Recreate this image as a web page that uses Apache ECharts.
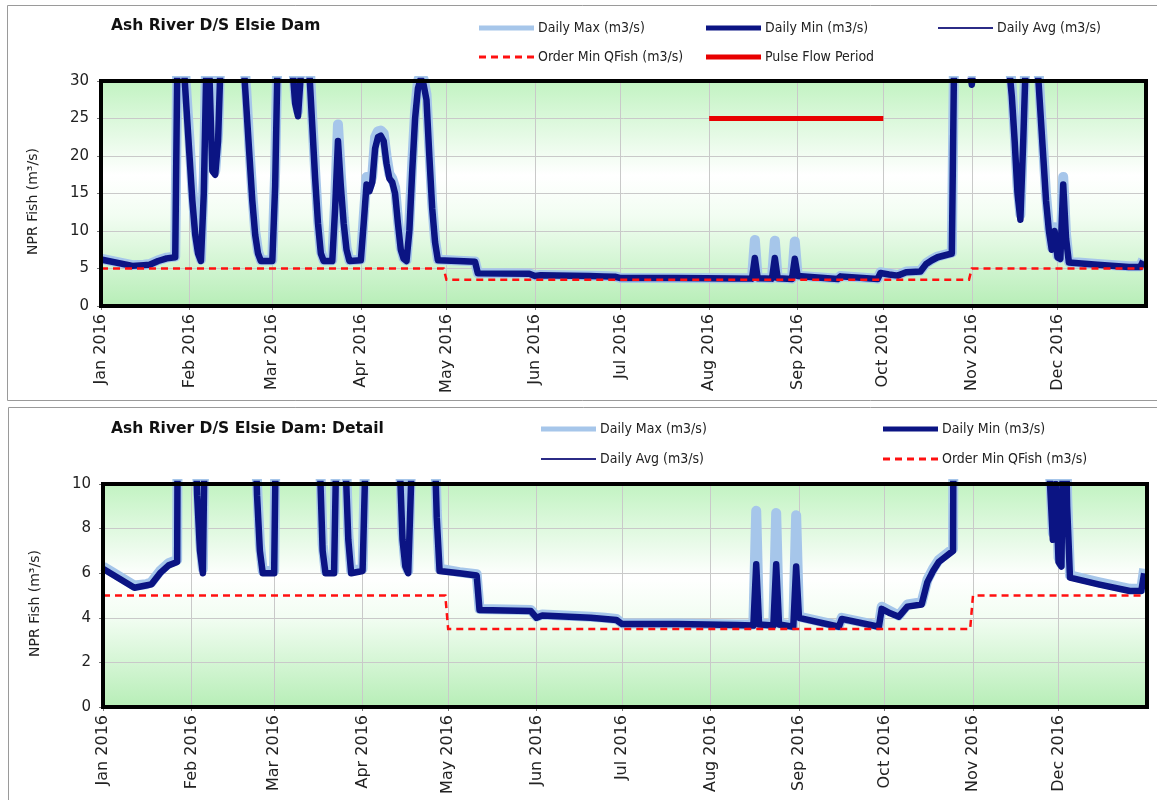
<!DOCTYPE html>
<html>
<head>
<meta charset="utf-8">
<script src="https://cdn.jsdelivr.net/npm/echarts@6/dist/echarts.min.js"></script>
<style>
  html, body { margin: 0; padding: 0; background: #ffffff; }
  #chart { width: 1157px; height: 800px; }
</style>
</head>
<body>
<div id="chart"></div>
<script>
// Ash River below Elsie Dam, daily flows for 2016 (m3/s)
const flowDates = [
  '2016-01-01','2016-01-12','2016-01-16','2016-01-18','2016-01-21','2016-01-24','2016-01-27','2016-01-28','2016-01-29','2016-01-30',
  '2016-01-31','2016-02-01','2016-02-02','2016-02-03','2016-02-04','2016-02-05','2016-02-06','2016-02-07','2016-02-08','2016-02-09',
  '2016-02-10','2016-02-11','2016-02-12','2016-02-16','2016-02-20','2016-02-21','2016-02-22','2016-02-23','2016-02-24','2016-02-25',
  '2016-02-26','2016-03-01','2016-03-02','2016-03-03','2016-03-07','2016-03-08','2016-03-09','2016-03-10','2016-03-11','2016-03-12',
  '2016-03-13','2016-03-14','2016-03-15','2016-03-16','2016-03-17','2016-03-18','2016-03-19','2016-03-22','2016-03-23','2016-03-24',
  '2016-03-25','2016-03-26','2016-03-27','2016-03-28','2016-04-01','2016-04-02','2016-04-03','2016-04-04','2016-04-05','2016-04-06',
  '2016-04-07','2016-04-08','2016-04-09','2016-04-10','2016-04-11','2016-04-12','2016-04-13','2016-04-14','2016-04-15','2016-04-16',
  '2016-04-17','2016-04-18','2016-04-19','2016-04-20','2016-04-21','2016-04-22','2016-04-23','2016-04-24','2016-04-25','2016-04-26',
  '2016-04-27','2016-04-28','2016-05-05','2016-05-11','2016-05-12','2016-05-30','2016-06-01','2016-06-03','2016-06-20','2016-06-25',
  '2016-06-29','2016-07-01','2016-07-20','2016-08-10','2016-08-16','2016-08-17','2016-08-18','2016-08-23','2016-08-24','2016-08-25',
  '2016-08-30','2016-08-31','2016-09-01','2016-09-15','2016-09-16','2016-09-29','2016-09-30','2016-10-03','2016-10-06','2016-10-09',
  '2016-10-14','2016-10-16','2016-10-18','2016-10-20','2016-10-25','2016-10-26','2016-10-31','2016-11-01','2016-11-02','2016-11-10',
  '2016-11-14','2016-11-15','2016-11-16','2016-11-17','2016-11-18','2016-11-19','2016-11-20','2016-11-24','2016-11-25','2016-11-26',
  '2016-11-27','2016-11-28','2016-11-29','2016-11-30','2016-12-01','2016-12-02','2016-12-03','2016-12-04','2016-12-05','2016-12-15',
  '2016-12-26','2016-12-30','2016-12-31'
];
const dailyMin = [
  6.2, 5.35, 5.45, 5.5, 6.0, 6.35, 6.5, 42, 40, 32,
  26, 20, 14, 9.5, 7, 6.0, 15, 34, 30.5, 18,
  17.5, 22, 34, 40, 32, 26, 20, 14, 9.5, 7,
  6.0, 6.0, 16, 36, 38, 32, 27, 25.3, 31, 36,
  34, 31, 24, 17, 11, 7, 6.0, 6.0, 13, 22,
  16, 11, 7.5, 6.0, 6.1, 11, 16.2, 15.3, 16.5, 21,
  22.5, 22.7, 22, 19, 17, 16.5, 15, 11, 7.5, 6.3,
  6.0, 10, 18, 25, 29, 30.3, 29.5, 27.5, 20, 13,
  8.5, 6.1, 6.0, 5.9, 4.35, 4.3, 4.0, 4.1, 4.0, 3.95,
  3.9, 3.72, 3.72, 3.68, 3.65, 6.4, 3.7, 3.65, 6.4, 3.7,
  3.6, 6.3, 4.0, 3.6, 3.95, 3.6, 4.4, 4.2, 4.05, 4.5,
  4.6, 5.6, 6.1, 6.5, 7.0, 40, 32, 29.5, 34, 40,
  32, 28, 22, 15, 11.5, 22, 34, 32, 26, 20,
  14, 10, 7.5, 10, 6.5, 6.3, 16.2, 9, 5.8, 5.5,
  5.2, 5.2, 6.0
];
const dailyMax = [
  6.3, 5.45, 5.5, 5.6, 6.1, 6.45, 6.6, 44, 42, 34,
  28, 22, 15.5, 10.5, 7.5, 6.2, 17, 36, 32, 19,
  18, 23, 36, 42, 34, 28, 21, 15, 10, 7.3,
  6.1, 6.1, 18, 38, 40, 34, 28, 26, 33, 38,
  36, 33, 25, 18, 11.5, 7.3, 6.1, 6.1, 14, 24.2,
  17.5, 11.8, 7.8, 6.1, 6.2, 11.8, 17.2, 16, 17.3, 22.5,
  23.3, 23.4, 23, 20, 17.6, 17, 15.8, 11.5, 7.8, 6.4,
  6.1, 11, 19, 26, 30, 31, 30.2, 28.2, 21, 13.6,
  8.8, 6.2, 6.05, 5.95, 4.4, 4.35, 4.05, 4.15, 4.05, 4.0,
  3.95, 3.75, 3.75, 3.7, 3.7, 8.8, 3.75, 3.7, 8.7, 3.75,
  3.65, 8.6, 4.05, 3.65, 4.0, 3.65, 4.5, 4.3, 4.1, 4.6,
  4.7, 5.7, 6.2, 6.6, 7.1, 42, 34, 31, 36, 42,
  34, 29, 23, 16, 12.2, 23, 36, 34, 27, 21,
  14.8, 10.5, 7.8, 10.5, 6.7, 6.4, 17.2, 9.5, 5.9, 5.6,
  5.3, 5.3, 6.2
];
const dailyAvg = [
  6.2, 5.4, 5.45, 5.55, 6.05, 6.4, 6.55, 43, 41, 33,
  27, 21, 14.8, 10, 7.2, 6.1, 16, 35, 31, 18.5,
  17.8, 22.5, 35, 41, 33, 27, 20.5, 14.5, 9.8, 7.1,
  6.05, 6.05, 17, 37, 39, 33, 27.5, 25.6, 32, 37,
  35, 32, 24.5, 17.5, 11.2, 7.1, 6.05, 6.05, 13.5, 23,
  16.8, 11.4, 7.6, 6.05, 6.15, 11.4, 16.7, 15.6, 16.9, 21.7,
  22.9, 23, 22.5, 19.5, 17.3, 16.7, 15.4, 11.2, 7.6, 6.35,
  6.05, 10.5, 18.5, 25.5, 29.5, 30.6, 29.8, 27.8, 20.5, 13.3,
  8.6, 6.15, 6.0, 5.9, 4.35, 4.3, 4.0, 4.1, 4.0, 3.95,
  3.9, 3.72, 3.72, 3.68, 3.65, 5.5, 3.7, 3.65, 5.5, 3.7,
  3.6, 5.4, 4.0, 3.6, 3.95, 3.6, 4.45, 4.25, 4.05, 4.55,
  4.65, 5.65, 6.15, 6.55, 7.05, 41, 33, 30, 35, 41,
  33, 28.5, 22.5, 15.5, 11.8, 22.5, 35, 33, 26.5, 20.5,
  14.4, 10.2, 7.6, 10.2, 6.6, 6.35, 16.5, 9.2, 5.85, 5.55,
  5.25, 5.25, 6.1
];

// Ordered minimum fish flow (step changes May 1 and Nov 1)
const qfishDates = ['2016-01-01', '2016-04-30', '2016-05-01', '2016-10-31', '2016-11-01', '2016-12-31'];
const qfishValues = [5, 5, 3.5, 3.5, 5, 5];

// Pulse flow window
const pulseDates = ['2016-08-01', '2016-10-01'];
const pulseValues = [25, 25];

const monthNames = ['Jan', 'Feb', 'Mar', 'Apr', 'May', 'Jun', 'Jul', 'Aug', 'Sep', 'Oct', 'Nov', 'Dec'];

const NAME_MAX = 'Daily Max (m3/s)';
const NAME_MIN = 'Daily Min (m3/s)';
const NAME_AVG = 'Daily Avg (m3/s)';
const NAME_QF = 'Order Min QFish (m3/s)';
const NAME_PULSE = 'Pulse Flow Period';

const COLOR_MAX = '#a6c6ea';
const COLOR_MIN = '#0b1483';
const COLOR_AVG = '#2b2b86';
const COLOR_QF = '#ff1010';
const COLOR_PULSE = '#e80000';

const DAY = 86400000;
const FONT = "'DejaVu Sans', Verdana, sans-serif";
const LEGEND_FONT = "'DejaVu Sans Condensed', 'DejaVu Sans', sans-serif";
const DASH_ICON = 'path://M0,0h7v3h-7z M12,0h7v3h-7z M24,0h7v3h-7z M36,0h7v3h-7z M48,0h7v3h-7z';

// plot-area layout of the two panels
const gridMain = { left: 101, top: 81, width: 1045, height: 225 };
const gridDetail = { left: 103, top: 484, width: 1044, height: 223 };

const zip = (xs, ys) => xs.map((x, i) => [x, ys[i]]);

function plotFill() {
  return new echarts.graphic.LinearGradient(0, 0, 0, 1, [
    { offset: 0, color: '#c2f3c2' },
    { offset: 0.42, color: '#ffffff' },
    { offset: 0.6, color: '#f2fdf2' },
    { offset: 1, color: '#b7eeb7' }
  ]);
}

function monthLabel(value) {
  const d = new Date(value);
  if (d.getFullYear() > 2016) return '';
  return monthNames[d.getMonth()] + ' ' + d.getFullYear();
}

function timeAxis(gridIndex) {
  return {
    type: 'time', gridIndex,
    min: '2016-01-01', max: '2017-01-01',
    splitNumber: 12, minInterval: 28 * DAY, maxInterval: 31 * DAY,
    axisLine: { show: false },
    axisTick: { show: true, length: 4, lineStyle: { color: '#777' } },
    axisLabel: {
      rotate: 90, margin: 8, fontSize: 16, color: '#222', fontFamily: FONT,
      formatter: monthLabel, showMaxLabel: false, hideOverlap: false
    },
    splitLine: { show: true, lineStyle: { color: '#c9c9c9', width: 1 } }
  };
}

function valueAxis(gridIndex, max, interval) {
  return {
    type: 'value', gridIndex, min: 0, max, interval,
    name: 'NPR Fish (m\u00b3/s)', nameLocation: 'middle', nameGap: 61,
    nameTextStyle: { fontSize: 14, color: '#222', fontFamily: FONT, padding: [0, 16, 0, 0] },
    axisLine: { show: false },
    axisTick: { show: true, length: 4, lineStyle: { color: '#777' } },
    axisLabel: { fontSize: 15, color: '#222', margin: 12, fontFamily: FONT },
    splitLine: { show: true, lineStyle: { color: '#c9c9c9', width: 1 } }
  };
}

function lineStyle(color, width) {
  return { color, width, type: 'solid', cap: 'butt', join: 'round' };
}

function flowSeries(axisIndex) {
  const base = { type: 'line', xAxisIndex: axisIndex, yAxisIndex: axisIndex, symbol: 'none', clip: true, animation: false };
  return [
    Object.assign({}, base, { name: NAME_AVG, data: zip(flowDates, dailyAvg), lineStyle: lineStyle(COLOR_AVG, 1.5), itemStyle: { color: COLOR_AVG }, z: 2 }),
    Object.assign({}, base, { name: NAME_MAX, data: zip(flowDates, dailyMax), lineStyle: lineStyle(COLOR_MAX, 10), itemStyle: { color: COLOR_MAX }, z: 3 }),
    Object.assign({}, base, { name: NAME_MIN, data: zip(flowDates, dailyMin), lineStyle: lineStyle(COLOR_MIN, 6.5), itemStyle: { color: COLOR_MIN }, z: 4 }),
    Object.assign({}, base, { name: NAME_QF, data: zip(qfishDates, qfishValues),
      lineStyle: { color: COLOR_QF, width: 2.5, type: [7, 5], cap: 'butt', join: 'miter' }, itemStyle: { color: COLOR_QF }, z: 5 })
  ];
}

// one legend entry per component so each sits where the layout wants it
function legendItem(name, left, centerY, thickness, icon) {
  return {
    data: [name], left, top: centerY - 8, padding: 0,
    icon: icon || 'rect', itemWidth: 55, itemHeight: thickness, itemGap: 0,
    textStyle: { fontSize: 14, color: '#222', fontFamily: LEGEND_FONT, padding: [0, 0, 0, -1] },
    selectedMode: false
  };
}

function frame(g) {
  return {
    type: 'rect', z: 100, silent: true,
    shape: { x: g.left, y: g.top, width: g.width, height: g.height },
    style: { fill: null, stroke: '#000', lineWidth: 4 }
  };
}

const chart = echarts.init(document.getElementById('chart'), null, { renderer: 'canvas' });

chart.setOption({
  backgroundColor: '#ffffff',
  animation: false,
  title: [
    { text: 'Ash River D/S Elsie Dam', left: 111, top: 18, padding: 0,
      textStyle: { fontSize: 15.5, fontWeight: 'bold', color: '#111', fontFamily: FONT } },
    { text: 'Ash River D/S Elsie Dam: Detail', left: 111, top: 421, padding: 0,
      textStyle: { fontSize: 15.5, fontWeight: 'bold', color: '#111', fontFamily: FONT } }
  ],
  legend: [
    legendItem(NAME_MAX, 479, 29, 5),
    legendItem(NAME_MIN, 706, 29, 5),
    legendItem(NAME_AVG, 938, 29, 2),
    legendItem(NAME_QF, 479, 58, 3, DASH_ICON),
    legendItem(NAME_PULSE, 706, 58, 5),
    legendItem(NAME_MAX, 541, 430, 5),
    legendItem(NAME_MIN, 883, 430, 5),
    legendItem(NAME_AVG, 541, 460, 2),
    legendItem(NAME_QF, 883, 460, 3, DASH_ICON)
  ],
  grid: [
    Object.assign({ show: true, backgroundColor: plotFill(), borderWidth: 0 }, gridMain),
    Object.assign({ show: true, backgroundColor: plotFill(), borderWidth: 0 }, gridDetail)
  ],
  xAxis: [timeAxis(0), timeAxis(1)],
  yAxis: [valueAxis(0, 30, 5), valueAxis(1, 10, 2)],
  series: [
    ...flowSeries(0),
    { type: 'line', name: NAME_PULSE, xAxisIndex: 0, yAxisIndex: 0, symbol: 'none', animation: false,
      data: zip(pulseDates, pulseValues), lineStyle: { color: COLOR_PULSE, width: 5 }, itemStyle: { color: COLOR_PULSE }, z: 6 },
    ...flowSeries(1)
  ],
  graphic: [
    { type: 'rect', silent: true, z: -1, shape: { x: 7.5, y: 5.5, width: 1200, height: 395 }, style: { fill: null, stroke: '#9a9a9a', lineWidth: 1 } },
    { type: 'rect', silent: true, z: -1, shape: { x: 8.5, y: 407.5, width: 1200, height: 420 }, style: { fill: null, stroke: '#9a9a9a', lineWidth: 1 } },
    frame(gridMain),
    frame(gridDetail)
  ]
});
</script>
</body>
</html>
